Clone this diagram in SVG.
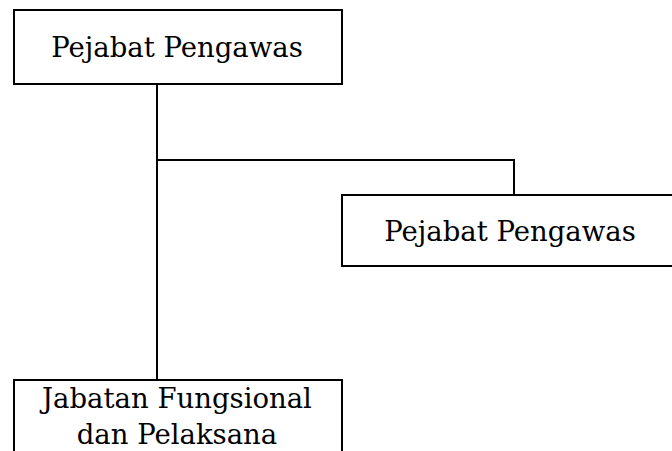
<svg xmlns="http://www.w3.org/2000/svg" width="672" height="451" viewBox="0 0 672 451">
<style>
.box{fill:#fff;stroke:#000;stroke-width:2}
.ln{fill:none;stroke:#000;stroke-width:2}
text{font-family:"DejaVu Serif","Liberation Serif",serif;font-size:27.5px;fill:#000;text-anchor:middle}
</style>
<rect width="672" height="451" fill="#fff"/>
<g id="connectors">
<path class="ln" d="M157 84 V380"/>
<path class="ln" d="M157 160 H514 V195"/>
</g>
<g id="node1">
<rect class="box" x="14" y="10" width="328" height="74"/>
<text x="177" y="57">Pejabat Pengawas</text>
</g>
<g id="node2">
<rect class="box" x="342" y="195" width="340" height="71"/>
<text x="510" y="241">Pejabat Pengawas</text>
</g>
<g id="node3">
<rect class="box" x="14" y="380" width="328" height="90"/>
<text x="177" y="408">Jabatan Fungsional</text>
<text x="177" y="444">dan Pelaksana</text>
</g>
</svg>
